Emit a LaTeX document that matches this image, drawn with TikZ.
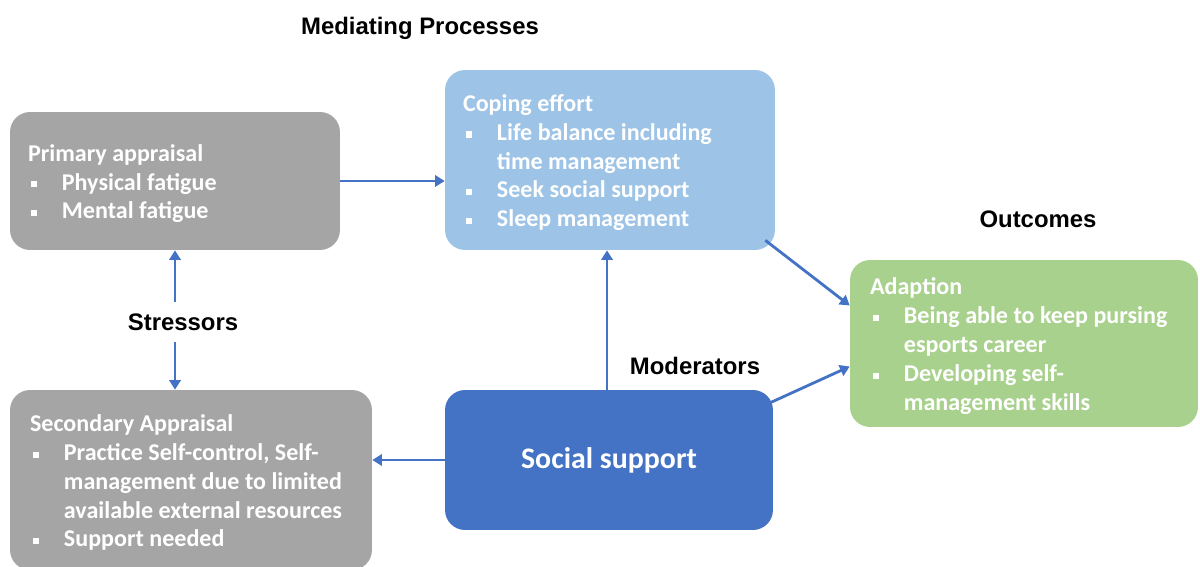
\documentclass[tikz,border=0pt]{standalone}
\usepackage{fontspec}
\setmainfont{Carlito}
\newfontfamily\headfont{Liberation Sans}
\usetikzlibrary{arrows.meta,calc}

\definecolor{boxgray}{HTML}{A5A5A5}
\definecolor{copeblue}{HTML}{9DC3E6}
\definecolor{adaptgreen}{HTML}{A9D18E}
\definecolor{socblue}{HTML}{4472C4}
\definecolor{arrblue}{HTML}{4472C4}

\newcommand{\bul}{\makebox[19.3pt][l]{\hspace{1.5pt}\rule[1.5pt]{3.5pt}{3.5pt}}}
\newcommand{\cnt}{\hspace*{19.3pt}}

\begin{document}
\begin{tikzpicture}[x=0.02cm,y=-0.02cm,
    box/.style={rounded corners=0.4cm, inner sep=0pt},
    boxtext/.style={anchor=west, inner sep=0pt, align=left, text=white,
        font=\fontsize{13.7}{16.45}\selectfont\bfseries},
    head/.style={font=\headfont\fontsize{13.6}{16}\selectfont\bfseries},
    arr/.style={draw=arrblue, line width=1.6pt, -{Triangle[length=5.5pt,width=6.5pt]}}]
    \useasboundingbox (0,0) rectangle (1200,567);
    \clip (0,0) rectangle (1200,567);

    % boxes
    \node[box, fill=boxgray, minimum width=6.6cm, minimum height=2.76cm] (prim) at (175,181) {};
    \node[box, fill=copeblue, minimum width=6.6cm, minimum height=3.6cm] (cope) at (610,160) {};
    \node[box, fill=adaptgreen, minimum width=6.96cm, minimum height=3.34cm] (adapt) at (1024,343.5) {};
    \node[box, fill=boxgray, minimum width=7.24cm, minimum height=3.6cm] (sec) at (191,480) {};
    \node[box, fill=socblue, minimum width=6.56cm, minimum height=2.8cm, text=white,
        font=\fontsize{17}{20}\selectfont\bfseries] (soc) at (609,460) {Social support};

    % box texts
    \node[boxtext] (primtxt) at ([xshift=0.36cm,yshift=-1.5pt]prim.west)
        {Primary appraisal\\ \bul Physical fatigue\\ \bul Mental fatigue};
    \node[boxtext] (copetxt) at ([xshift=0.36cm,yshift=-1.5pt]cope.west)
        {Coping effort\\ \bul Life balance including\\ \cnt time management\\
         \bul Seek social support\\ \bul Sleep management};
    \node[boxtext] (adapttxt) at ([xshift=0.4cm,yshift=-1.5pt]adapt.west)
        {Adaption\\ \bul Being able to keep pursing\\ \cnt esports career\\
         \bul Developing self-\\ \cnt management skills};
    \node[boxtext] (sectxt) at ([xshift=0.4cm,yshift=-1.5pt]sec.west)
        {Secondary Appraisal\\ \bul Practice Self-control, Self-\\ \cnt management due to limited\\
         \cnt available external resources\\ \bul Support needed};

    % headings
    \node[head] (medi) at (420,28) {Mediating Processes};
    \node[head] (outc) at (1038,219) {Outcomes};
    \node[head] (stress) at (183,322) {Stressors};
    \node[head] (moder) at (695,366) {Moderators};

    % connectors
    \draw[arr] (prim.east) -- (prim.east -| cope.west);
    \draw[arr] ([yshift=0.1cm]prim.south |- stress.north) -- (prim.south);
    \draw[arr] ([yshift=-0.1cm]prim.south |- stress.south) -- (prim.south |- sec.north);
    \draw[arr] (soc.north -| 607,0) -- (607,0 |- cope.south);
    \draw[arr] (soc.west) -- (soc.west -| sec.east);
    \draw[arr] ($(cope.south east)+(-10,-10)$) -- ($(adapt.west)+(0,-38)$);
    \draw[arr] ($(soc.north east)+(-3,13)$) -- ($(adapt.west)+(0,23)$);
\end{tikzpicture}
\end{document}
